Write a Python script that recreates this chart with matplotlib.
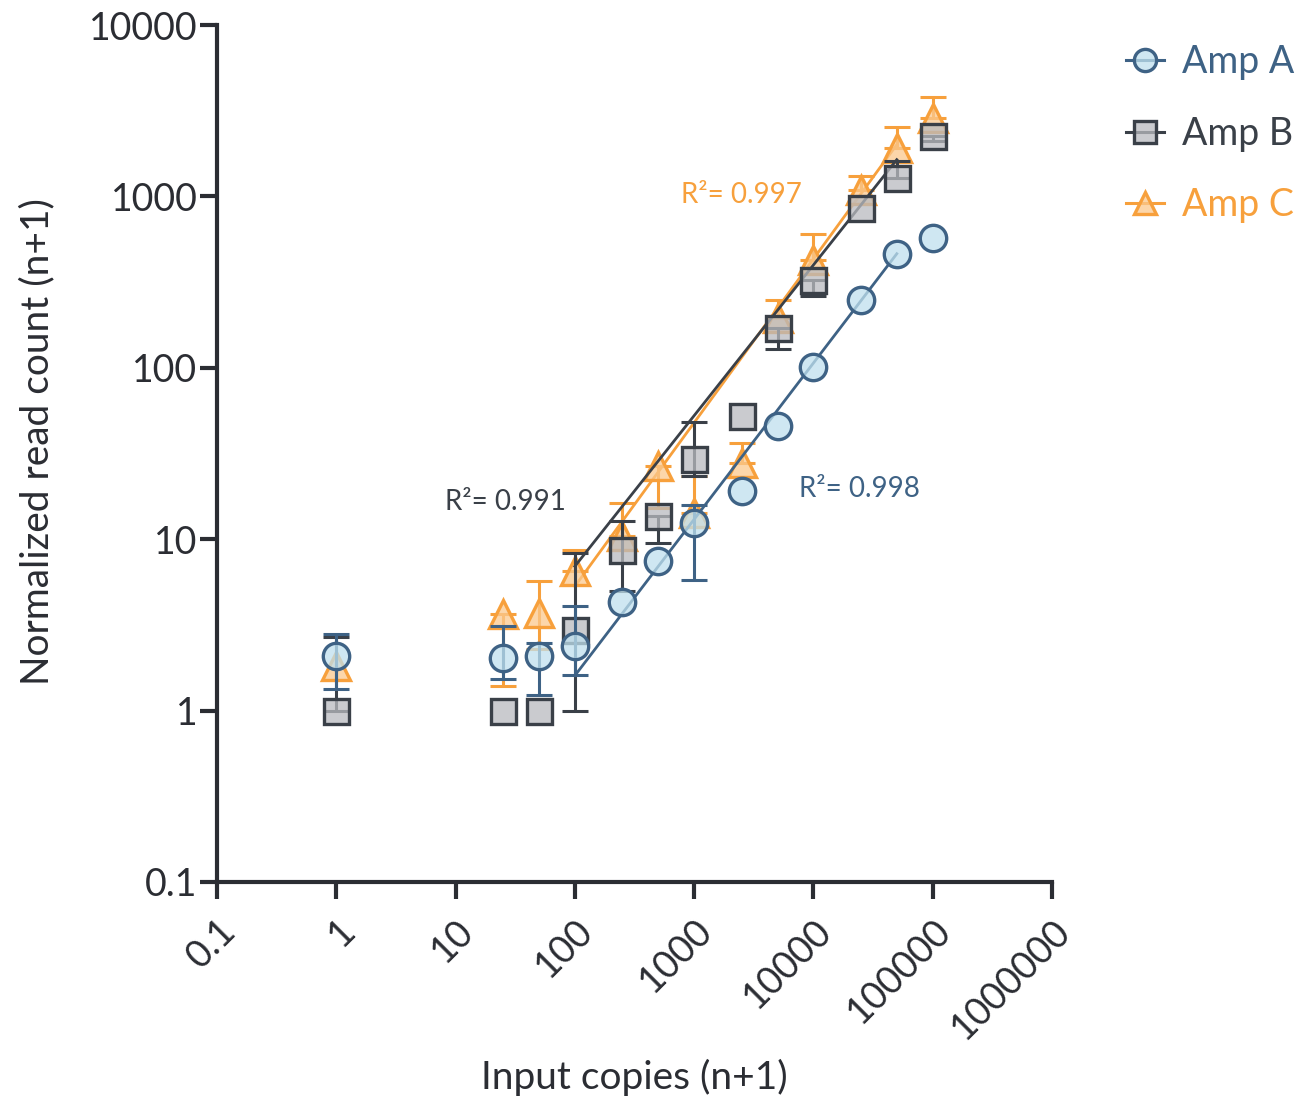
import numpy as np
import matplotlib
matplotlib.use('Agg')
import matplotlib.pyplot as plt
from matplotlib.lines import Line2D
from matplotlib.ticker import FixedLocator, FixedFormatter, NullLocator

plt.rcParams['font.family'] = ['Lato', 'DejaVu Sans']

# input copies (n+1)
copies = [1, 25, 50, 100, 250, 500, 1000, 2500, 5000, 10000, 25000, 50000, 100000]

# Amp A
amp_a = [2.07, 2.03, 2.07, 2.37, 4.28, 7.43, 12.4, 19.2, 46, 101, 248, 464, 573]
amp_a_lo = [1.33, 1.52, 1.24, 1.61, 4.28, 7.43, 5.8, 19.2, 46, 101, 248, 464, 573]
amp_a_hi = [2.8, 3.1, 2.48, 4.06, 4.28, 7.43, 15.9, 19.2, 46, 101, 248, 464, 573]

# Amp B
amp_b = [1.0, 1.0, 1.0, 2.97, 8.6, 13.6, 29.5, 52.6, 171, 327, 857, 1280, 2243]
amp_b_lo = [1.0, 1.0, 1.0, 1.0, 4.97, 9.5, 23.3, 52.6, 128, 261, 857, 1280, 2100]
amp_b_hi = [2.7, 1.0, 1.0, 8.3, 12.7, 13.6, 48.1, 52.6, 171, 327, 857, 1618, 2243]

# Amp C
amp_c = [1.81, 3.68, 3.72, 6.5, 10.4, 26.9, 14.2, 27.9, 196, 428, 1096, 1919, 2870]
amp_c_lo = [1.81, 1.39, 2.3, 6.5, 10.4, 15.3, 14.2, 27.9, 196, 428, 1096, 1919, 2870]
amp_c_hi = [1.81, 3.68, 5.68, 8.6, 16.3, 26.9, 23.3, 36.5, 250, 607, 1310, 2540, 3800]

# log-log fits over 100..50000 copies: (log10 y at x=100, slope)
fit_range = [100, 50000]
fit_a = [0.204, 0.912]
fit_b = [0.842, 0.879]
fit_c = [0.725, 0.955]
r2_a, r2_b, r2_c = '0.998', '0.991', '0.997'

col_a, fill_a = '#3e6285', '#bfe0ee'
col_b, fill_b = '#3a4048', '#b9babf'
col_c, fill_c = '#f7a03c', '#fbc98e'
axcol = '#2b2d33'

fig = plt.figure(figsize=(13.08, 11.02), dpi=100)
ax = fig.add_axes([217 / 1308, 1 - 882 / 1102, (1052 - 217) / 1308, (882 - 25) / 1102])

series = [
    (amp_c, amp_c_lo, amp_c_hi, fit_c, col_c, fill_c, '^', 20, 2),
    (amp_b, amp_b_lo, amp_b_hi, fit_b, col_b, fill_b, 's', 18, 3),
    (amp_a, amp_a_lo, amp_a_hi, fit_a, col_a, fill_a, 'o', 19, 4),
]

x = np.array(copies, dtype=float)
for y, lo, hi, fit, col, fill, mk, ms, z in series:
    y = np.array(y)
    lo = np.array(lo)
    hi = np.array(hi)
    has_err = (hi > y) | (lo < y)
    ax.errorbar(x[has_err], y[has_err], yerr=[(y - lo)[has_err], (hi - y)[has_err]],
                fmt='none', ecolor=col, elinewidth=2.2, capsize=9.5, capthick=2.2, zorder=z)
    xf = np.array(fit_range, dtype=float)
    yf = 10 ** (fit[0] + fit[1] * (np.log10(xf) - 2))
    ax.plot(xf, yf, color=col, lw=2.0, zorder=z)
    ax.plot(x, y, ls='none', marker=mk, ms=ms, mec=col, mew=2.4,
            mfc=matplotlib.colors.to_rgba(fill, 0.75), zorder=z + 0.5)

ax.set_xscale('log')
ax.set_yscale('log')
ax.set_xlim(0.1, 1e6)
ax.set_ylim(0.1, 1e4)

xt = [0.1, 1, 10, 100, 1000, 10000, 100000, 1000000]
ax.xaxis.set_major_locator(FixedLocator(xt))
ax.xaxis.set_major_formatter(FixedFormatter(['0.1', '1', '10', '100', '1000', '10000', '100000', '1000000']))
ax.xaxis.set_minor_locator(NullLocator())
yt = [0.1, 1, 10, 100, 1000, 10000]
ax.yaxis.set_major_locator(FixedLocator(yt))
ax.yaxis.set_major_formatter(FixedFormatter(['0.1', '1', '10', '100', '1000', '10000']))
ax.yaxis.set_minor_locator(NullLocator())

for s in ['top', 'right']:
    ax.spines[s].set_visible(False)
for s in ['left', 'bottom']:
    ax.spines[s].set_linewidth(3)
    ax.spines[s].set_color(axcol)
ax.tick_params(length=12, width=3, color=axcol, labelsize=27, labelcolor=axcol)
ax.tick_params(axis='y', pad=2)
ax.tick_params(axis='x', pad=10)
for lab in ax.get_xticklabels():
    lab.set_rotation(45)
    lab.set_ha('right')
    lab.set_va('top')
    lab.set_rotation_mode('anchor')

fig.text(634 / 1308, 1 - 1077 / 1102, 'Input copies (n+1)', fontsize=28, color=axcol,
         ha='center', va='center')
fig.text(37 / 1308, 1 - 442 / 1102, 'Normalized read count (n+1)', fontsize=28, color=axcol,
         ha='center', va='center', rotation=90)

# R² labels
ax.text(24500, 19.5, 'R²= ' + r2_a, fontsize=20, color=col_a, ha='center', va='center')
ax.text(26, 16.4, 'R²= ' + r2_b, fontsize=20, color=col_b, ha='center', va='center')
ax.text(2512, 1023, 'R²= ' + r2_c, fontsize=20, color=col_c, ha='center', va='center')

handles = []
for name, col, fill, mk in [('Amp A', col_a, fill_a, 'o'), ('Amp B', col_b, fill_b, 's'),
                            ('Amp C', col_c, fill_c, '^')]:
    handles.append(Line2D([], [], color=col, lw=2.2, marker=mk, ms=16, mec=col, mew=2.4,
                          mfc=matplotlib.colors.to_rgba(fill, 0.75), label=name))
leg = fig.legend(handles=handles, loc='upper left', bbox_to_anchor=(1126 / 1308, 1 - 44 / 1102),
                 frameon=False, fontsize=27, handlelength=1.0, handletextpad=0.5,
                 labelspacing=0.95, borderpad=0, borderaxespad=0)
for t, c in zip(leg.get_texts(), [col_a, col_b, col_c]):
    t.set_color(c)

fig.savefig('out.png', dpi=100)
